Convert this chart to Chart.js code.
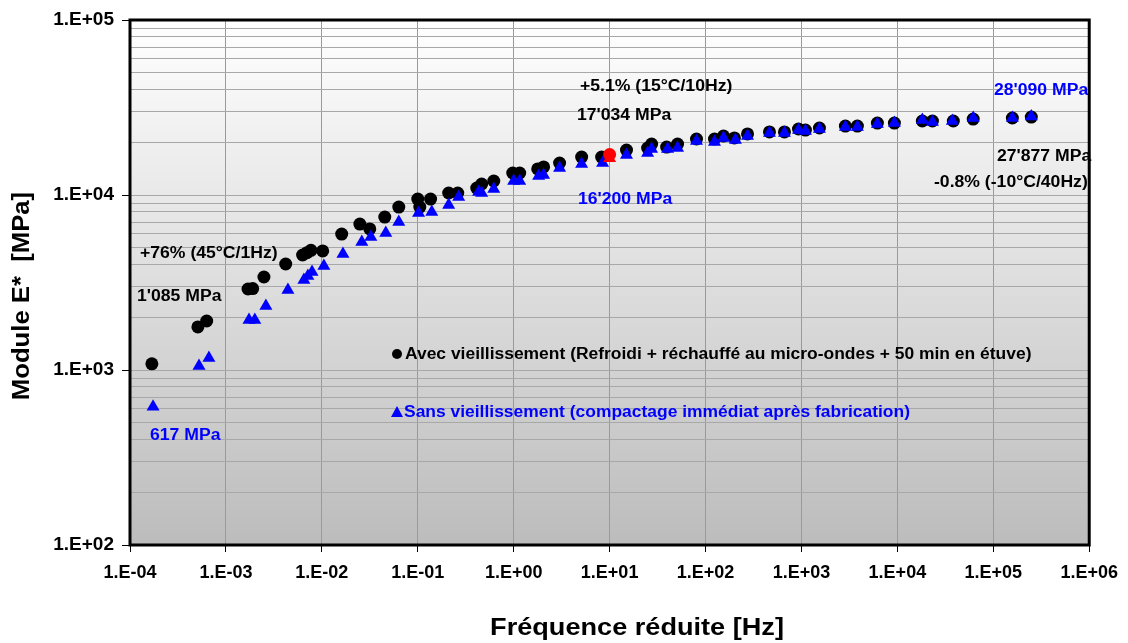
<!DOCTYPE html>
<html>
<head>
<meta charset="utf-8">
<script src="https://cdn.jsdelivr.net/npm/chart.js@4"></script>
<style>
  html, body { margin: 0; padding: 0; background: #fff; }
  #wrap { width: 1128px; height: 643px; }
</style>
</head>
<body>
<div id="wrap"><canvas id="myChart" width="1128" height="643"></canvas></div>
<script>
// frequence reduite [Hz] and module E* [MPa]
const freqAvec = [1.69e-4, 5.1e-4, 6.3e-4, 1.7e-3, 1.9e-3, 2.49e-3, 4.2e-3, 6.3e-3, 7.0e-3, 7.7e-3, 1.02e-2, 1.61e-2, 2.49e-2, 3.16e-2, 4.53e-2, 6.34e-2, 0.1, 0.105, 0.136, 0.21, 0.261, 0.412, 0.464, 0.62, 0.977, 1.155, 1.78, 2.05, 3.01, 5.11, 8.26, 15.0, 24.9, 27.4, 39.3, 51.1, 80.5, 124, 154, 200, 274, 464, 665, 931, 1100, 1540, 2870, 3830, 6190, 9310, 18200, 23200, 38300, 61700, 158000, 249000]
const moduleAvec = [1085, 1762, 1905, 2904, 2920, 3399, 4035, 4540, 4680, 4830, 4790, 5980, 6820, 6400, 7480, 8530, 9480, 8530, 9480, 10270, 10270, 10960, 11560, 12020, 13360, 13360, 14090, 14460, 15240, 16480, 16480, 18070, 18560, 19540, 18790, 19540, 20890, 20890, 21730, 21190, 22330, 22930, 22930, 23830, 23510, 24150, 24780, 24780, 25760, 25760, 26470, 26470, 26470, 27170, 27540, 27877]

const freqSans = [1.74e-4, 5.24e-4, 6.65e-4, 1.74e-3, 2.0e-3, 2.61e-3, 4.43e-3, 6.5e-3, 7.15e-3, 7.9e-3, 1.05e-2, 1.66e-2, 2.61e-2, 3.24e-2, 4.64e-2, 6.34e-2, 0.102, 0.14, 0.21, 0.267, 0.431, 0.464, 0.62, 1.0, 1.155, 1.82, 2.05, 3.01, 5.11, 8.45, 15.0, 24.9, 27.4, 40.2, 51.1, 80.5, 124, 154, 205, 274, 464, 665, 931, 1100, 1540, 2870, 3830, 6190, 9310, 18200, 23200, 37400, 61700, 158000, 249000]
const moduleSans = [617, 1054, 1172, 1931, 1931, 2320, 2865, 3270, 3440, 3630, 3930, 4600, 5380, 5750, 6070, 7010, 7890, 8000, 8770, 9750, 10400, 10260, 10820, 12020, 12020, 12840, 13010, 14250, 15030, 15240, 16930, 17380, 18330, 18330, 18560, 20370, 20110, 21190, 20620, 21730, 22610, 22610, 23510, 23210, 23840, 24470, 24470, 25440, 25760, 26830, 26130, 26470, 27540, 27540, 28090]

// reference point at 15°C / 10 Hz
const refFreq = [10]
const refAvec = [17034]
const refSans = [16200]

const xDecades = [-4, -3, -2, -1, 0, 1, 2, 3, 4, 5, 6]
const yDecades = [2, 3, 4, 5]

const labelAvec = 'Avec vieillissement (Refroidi + réchauffé au micro-ondes + 50 min en étuve)'
const labelSans = 'Sans vieillissement (compactage immédiat après fabrication)'
const xTitle = 'Fréquence réduite [Hz]'
const yTitle = 'Module E*  [MPa]'

const FONT = "'Liberation Sans', Arial, sans-serif"

function pts(xs, ys) {
  return xs.map((x, i) => ({ x: x, y: ys[i] }))
}

function sciLabel(v) {
  const e = Math.round(Math.log10(v))
  const s = e < 0 ? '-' : '+'
  const a = Math.abs(e)
  return '1.E' + s + (a < 10 ? '0' + a : a)
}

function isDecade(v) {
  const l = Math.log10(v)
  return Math.abs(l - Math.round(l)) < 1e-9
}

// text a bit wider than the font, like the original export
function wideText(ctx, t, x, y, sx, align) {
  ctx.save()
  ctx.translate(x, y)
  ctx.scale(sx, 1)
  ctx.textAlign = align || 'left'
  ctx.fillText(t, 0, 0)
  ctx.restore()
}

// plot area gradient + heavy frame
const frame = {
  id: 'frame',
  beforeDraw(chart) {
    const { ctx, chartArea: a } = chart
    const g = ctx.createLinearGradient(0, a.top, 0, a.bottom)
    g.addColorStop(0, '#ffffff')
    g.addColorStop(1, '#bcbcbc')
    ctx.save()
    ctx.fillStyle = g
    ctx.fillRect(a.left, a.top, a.right - a.left, a.bottom - a.top)
    ctx.restore()
  },
  afterDraw(chart) {
    const { ctx, chartArea: a } = chart
    ctx.save()
    ctx.strokeStyle = '#000'
    ctx.lineWidth = 3
    ctx.strokeRect(a.left, a.top, a.right - a.left, a.bottom - a.top)

    // axis titles
    ctx.fillStyle = '#000'
    ctx.textBaseline = 'middle'
    ctx.font = 'bold 24px ' + FONT
    wideText(ctx, xTitle, 637, 628, 1.13, 'center')
    ctx.save()
    ctx.translate(22, 296)
    ctx.rotate(-Math.PI / 2)
    wideText(ctx, yTitle, 0, 0, 1.07, 'center')
    ctx.restore()
    ctx.restore()
  },
}

// texts written in the plot
const notes = [
  { t: '+76% (45°C/1Hz)', x: 140, y: 254, c: '#000' },
  { t: "1'085 MPa", x: 137, y: 297, c: '#000' },
  { t: '617 MPa', x: 150, y: 436, c: '#0000ff' },
  { t: '+5.1% (15°C/10Hz)', x: 580, y: 87, c: '#000' },
  { t: "17'034 MPa", x: 577, y: 116, c: '#000' },
  { t: "16'200 MPa", x: 578, y: 200, c: '#0000ff' },
  { t: "28'090 MPa", x: 994, y: 91, c: '#0000ff' },
  { t: "27'877 MPa", x: 997, y: 157, c: '#000' },
  { t: '-0.8% (-10°C/40Hz)', x: 934, y: 183, c: '#000' },
]

const annotate = {
  id: 'annotate',
  afterDatasetsDraw(chart) {
    const ctx = chart.ctx
    ctx.save()
    ctx.textBaseline = 'middle'
    ctx.font = 'bold 16px ' + FONT
    notes.forEach(n => {
      ctx.fillStyle = n.c
      wideText(ctx, n.t, n.x, n.y, 1.1)
    })

    // series keys
    ctx.fillStyle = '#000'
    ctx.beginPath()
    ctx.arc(397, 354, 5, 0, Math.PI * 2)
    ctx.fill()
    wideText(ctx, labelAvec, 405, 355, 1.09)

    ctx.fillStyle = '#0000ff'
    ctx.beginPath()
    ctx.moveTo(397, 406)
    ctx.lineTo(403, 417)
    ctx.lineTo(391, 417)
    ctx.closePath()
    ctx.fill()
    wideText(ctx, labelSans, 404, 413, 1.09)
    ctx.restore()
  },
}

const ctx = document.getElementById('myChart')

const myChart = new Chart(ctx, {
  type: 'scatter',
  data: {
    datasets: [
      {
        label: labelAvec,
        data: pts(freqAvec, moduleAvec),
        order: 4,
        pointStyle: 'circle',
        pointRadius: 6.5,
        backgroundColor: '#000',
        borderColor: '#000',
        borderWidth: 0,
      },
      {
        label: labelSans,
        data: pts(freqSans, moduleSans),
        order: 3,
        pointStyle: 'triangle',
        pointRadius: 7.5,
        backgroundColor: '#0000ff',
        borderColor: '#0000ff',
        borderWidth: 0,
      },
      {
        label: 'ref sans',
        data: pts(refFreq, refSans),
        order: 2,
        pointStyle: 'triangle',
        pointRadius: 7.5,
        backgroundColor: '#ff0000',
        borderWidth: 0,
      },
      {
        label: 'ref avec',
        data: pts(refFreq, refAvec),
        order: 1,
        pointStyle: 'circle',
        pointRadius: 6.5,
        backgroundColor: '#ff0000',
        borderWidth: 0,
      },
    ],
  },
  options: {
    responsive: false,
    animation: false,
    layout: { padding: { top: 20, right: 38, left: 0, bottom: 0 } },
    plugins: {
      legend: { display: false },
      tooltip: { enabled: false },
    },
    scales: {
      x: {
        type: 'logarithmic',
        min: 1e-4,
        max: 1e6,
        afterBuildTicks(scale) {
          scale.ticks = xDecades.map(e => ({ value: Math.pow(10, e) }))
        },
        afterFit(scale) {
          scale.height = 98
        },
        ticks: {
          autoSkip: false,
          maxRotation: 0,
          padding: 10,
          color: '#000',
          font: { family: FONT, size: 18, weight: 'bold' },
          callback: v => sciLabel(v),
        },
        grid: { color: '#9a9a9a', lineWidth: 1, tickLength: 7, tickColor: '#000' },
        border: { display: false },
      },
      y: {
        type: 'logarithmic',
        min: 100,
        max: 100000,
        afterBuildTicks(scale) {
          const t = []
          yDecades.forEach(e => {
            const base = Math.pow(10, e)
            const top = e === 5 ? 1 : 9
            for (let m = 1; m <= top; m++) t.push({ value: m * base })
          })
          scale.ticks = t
        },
        afterFit(scale) {
          scale.width = 130
        },
        ticks: {
          autoSkip: false,
          padding: 8,
          color: '#000',
          font: { family: FONT, size: 19, weight: 'bold' },
          callback: v => (isDecade(v) ? sciLabel(v) : ''),
        },
        grid: {
          color: '#a8a8a8',
          lineWidth: 1,
          tickLength: 8,
          tickColor: c => (c.tick && isDecade(c.tick.value) ? '#000' : 'rgba(0,0,0,0)'),
        },
        border: { display: false },
      },
    },
  },
  plugins: [frame, annotate],
})
</script>
</body>
</html>
